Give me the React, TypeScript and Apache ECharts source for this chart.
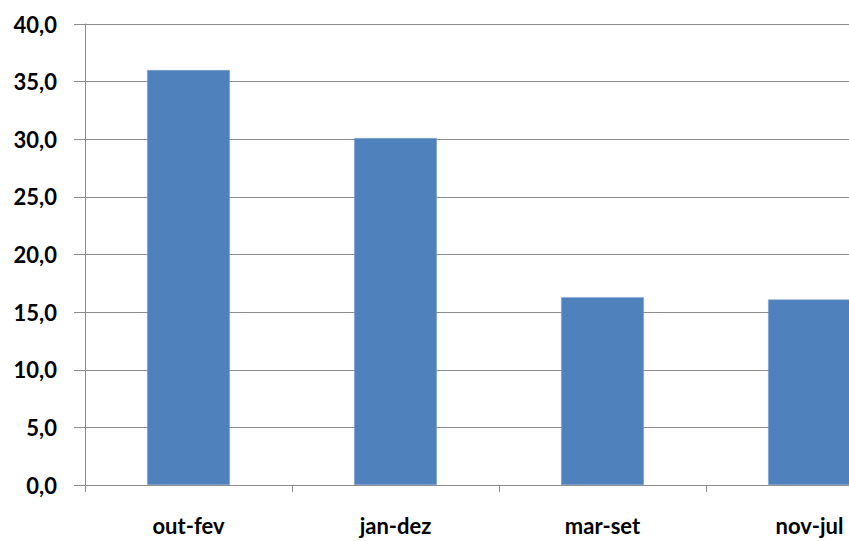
import React, { useEffect, useRef } from "react";
import * as echarts from "echarts";

const categories = ["out-fev", "jan-dez", "mar-set", "nov-jul"];
const values = [36.0, 30.1, 16.3, 16.1];
const yTicks = { min: 0, max: 40, interval: 5 };

export default function App() {
  const ref = useRef<HTMLDivElement>(null);
  useEffect(() => {
    if (!ref.current) return;
    const chart = echarts.init(ref.current, null, { renderer: "svg" });
    const axisColor = "#8c8c8c";
    chart.setOption({
      animation: false,
      backgroundColor: "#ffffff",
      grid: { left: 85, top: 24, bottom: 56, right: 0, containLabel: false },
      xAxis: {
        type: "category",
        data: categories,
        axisLine: { show: true, lineStyle: { color: axisColor, width: 1 } },
        axisTick: { show: true, length: 7, lineStyle: { color: axisColor } },
        axisLabel: {
          margin: 29,
          color: "#000000",
          fontFamily: "Lato",
          fontWeight: "bold",
          fontSize: 22,
        },
      },
      yAxis: {
        type: "value",
        min: yTicks.min,
        max: yTicks.max,
        interval: yTicks.interval,
        axisLine: { show: true, lineStyle: { color: axisColor, width: 1 } },
        axisTick: { show: true, length: 11, lineStyle: { color: axisColor } },
        splitLine: { show: true, lineStyle: { color: axisColor, width: 1 } },
        axisLabel: {
          margin: 28,
          color: "#000000",
          fontFamily: "Lato",
          fontWeight: "bold",
          fontSize: 22,
          formatter: (v: number) => v.toFixed(1).replace(".", ","),
        },
      },
      series: [
        {
          type: "bar",
          data: values,
          barWidth: "40%",
          itemStyle: { color: "#4f81bd", borderColor: "#7ea3d1", borderWidth: 0.5 },
        },
      ],
    });
    return () => chart.dispose();
  }, []);
  return (
    <div style={{ width: 849, height: 541, position: "absolute", left: 0, top: 0, overflow: "hidden", background: "#fff" }}>
      <div ref={ref} style={{ width: 913, height: 541 }} />
    </div>
  );
}
